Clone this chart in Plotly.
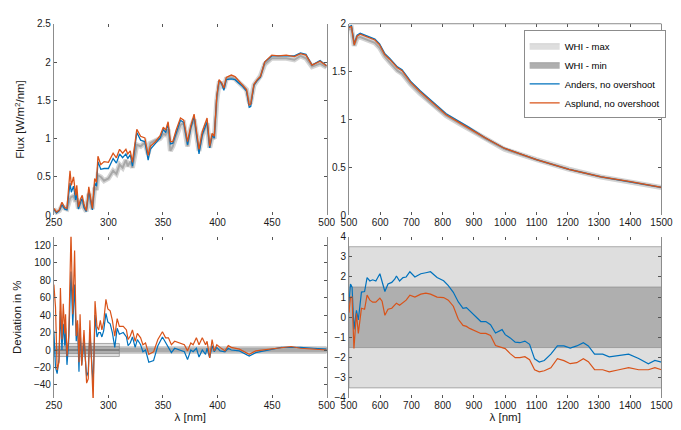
import plotly.graph_objects as go

# --- top left: flux 250-500 nm ---
wl_uv = [250, 252.4, 255, 257.4, 260, 262, 264.8, 266, 268, 270,
         271, 272.5, 274.6, 276, 277.6, 279.7, 282, 283.5, 285.3, 287.4,
         289, 290.4, 293, 296, 300, 304.3, 307.3, 310.2, 313, 316,
         317.7, 320, 322, 326, 329.5, 333.4, 336.4, 338.4, 343, 347.4,
         350.3, 352.4, 354.7, 356.8, 359, 362, 366, 369, 372.5, 375.5,
         378.5, 383, 386, 390.4, 392.8, 395, 397, 399.3, 401.4, 403.7,
         405.8, 408, 412.6, 416, 419.4, 423, 426.5, 429, 430.4, 433.4,
         436.4, 439.3, 443.2, 449.7, 455.7, 463, 470.4, 476, 481, 486.6,
         494, 500]
asplund_uv = [0.09, 0.04, 0.07, 0.17, 0.10, 0.09, 0.58, 0.39, 0.50, 0.26,
              0.39, 0.11, 0.22, 0.26, 0.14, 0.06, 0.37, 0.22, 0.09, 0.48,
              0.43, 0.77, 0.66, 0.70, 0.69, 0.81, 0.75, 0.86, 0.81, 0.86,
              0.80, 0.84, 0.69, 1.12, 1.03, 1.01, 0.78, 0.90, 0.96, 1.04,
              1.15, 1.11, 1.22, 0.96, 0.96, 1.11, 1.27, 1.24, 0.96, 1.17,
              1.32, 0.86, 1.09, 1.27, 0.90, 1.07, 1.03, 1.56, 1.77, 1.73,
              1.66, 1.80, 1.83, 1.81, 1.75, 1.70, 1.64, 1.44, 1.45, 1.71,
              1.77, 1.81, 2.00, 2.09, 2.08, 2.09, 2.07, 2.11, 2.09, 1.96,
              2.01, 1.95]
anders_uv = [0.08, 0.03, 0.06, 0.14, 0.08, 0.07, 0.42, 0.30, 0.38, 0.20,
             0.30, 0.08, 0.18, 0.22, 0.10, 0.05, 0.32, 0.18, 0.07, 0.42,
             0.38, 0.70, 0.60, 0.61, 0.61, 0.74, 0.68, 0.80, 0.75, 0.80,
             0.74, 0.79, 0.64, 1.08, 0.98, 0.96, 0.72, 0.86, 0.93, 1.01,
             1.12, 1.08, 1.19, 0.93, 0.94, 1.08, 1.24, 1.21, 0.92, 1.14,
             1.29, 0.80, 1.05, 1.22, 0.88, 1.04, 1.01, 1.55, 1.76, 1.72,
             1.63, 1.77, 1.78, 1.77, 1.73, 1.68, 1.62, 1.41, 1.42, 1.70,
             1.76, 1.80, 2.00, 2.08, 2.08, 2.08, 2.08, 2.12, 2.10, 1.96,
             2.02, 1.95]
whi_uv = [0.08, 0.04, 0.06, 0.12, 0.09, 0.08, 0.22, 0.24, 0.25, 0.18,
          0.22, 0.09, 0.16, 0.18, 0.10, 0.05, 0.28, 0.16, 0.08, 0.36,
          0.33, 0.52, 0.50, 0.45, 0.48, 0.58, 0.54, 0.66, 0.62, 0.72,
          0.64, 0.70, 0.62, 0.92, 0.90, 0.95, 0.80, 0.94, 0.98, 1.00,
          1.06, 1.05, 1.12, 0.84, 0.90, 1.04, 1.18, 1.20, 0.90, 1.14,
          1.25, 0.84, 1.04, 1.20, 0.88, 1.02, 1.00, 1.50, 1.72, 1.72,
          1.66, 1.78, 1.80, 1.78, 1.73, 1.70, 1.64, 1.48, 1.48, 1.70,
          1.76, 1.82, 1.97, 2.05, 2.05, 2.05, 2.03, 2.08, 2.05, 1.94,
          1.98, 1.93]

# --- top right: flux 500-1500 nm ---
wl_vis = [500, 508, 517, 526, 536, 552, 567, 583, 598, 614, 630, 655, 670,
          697, 728, 769, 811, 852, 883, 935, 997, 1100, 1204, 1307, 1400, 1500]
asplund_vis = [1.96, 1.97, 1.78, 1.87, 1.89, 1.87, 1.85, 1.83, 1.78, 1.68, 1.63, 1.54, 1.51,
               1.39, 1.29, 1.17, 1.05, 0.97, 0.91, 0.81, 0.70, 0.58, 0.48, 0.40, 0.35, 0.29]
anders_vis = [1.97, 1.98, 1.79, 1.88, 1.90, 1.88, 1.86, 1.84, 1.79, 1.69, 1.64, 1.55, 1.52,
              1.40, 1.30, 1.18, 1.06, 0.98, 0.92, 0.81, 0.70, 0.58, 0.48, 0.40, 0.35, 0.29]
whi_vis = [1.94, 1.95, 1.77, 1.85, 1.86, 1.84, 1.82, 1.80, 1.75, 1.66, 1.60, 1.51, 1.48,
           1.37, 1.27, 1.15, 1.04, 0.96, 0.90, 0.80, 0.69, 0.58, 0.48, 0.40, 0.35, 0.29]

# --- bottom left: deviation 250-500 nm ---
dwl_uv = [250, 251.5, 253, 254.7, 256, 257.4, 258.6, 260, 260.7, 262,
          263.6, 265.7, 267.3, 269, 270.5, 271.7, 273, 274, 275.5, 277.6,
          280, 281.5, 283, 284, 286, 287.7, 289.5, 291, 292.6, 294,
          295.6, 297.7, 299.5, 301.6, 303.6, 305.8, 308, 310, 313.6, 316.5,
          318, 320, 322, 324.5, 326.5, 329.5, 331.6, 334, 337, 341.4,
          345.3, 349.5, 352.4, 355, 357.7, 360.7, 365, 369.6, 372.5, 375.5,
          377.6, 380.6, 383, 386, 389, 390.4, 392.8, 395, 397, 399.3,
          402.3, 406.8, 409.8, 412.6, 420, 429, 435, 446.6, 458.5, 467.4,
          476, 488, 500]
dev_asplund_uv = [75, 49, -23, -14, 71, 12, 53, 19, 41, -7,
                  16, 135, 41, 114, 16, 34, -14, 41, -18, 23,
                  -38, -33, 34, 1, -60, 56, 27, 23, 34, 23,
                  32, 58, 47, 45, 34, 16, 36, 27, 27, 23,
                  12, 16, 23, 10, 19, 14, 6, 8, -5, -2,
                  12, 21, 14, 14, 6, 10, 8, 6, -1, 8,
                  6, 14, 6, 14, 6, 10, -9, 12, -1, 6,
                  3, -1, 5, 3, 1, -5, -1, 1, 3, 4,
                  2, 1, 0]
dev_anders_uv = [22, -20, -27, -10, 45, 0, 30, 5, 25, -17,
                 10, 90, 28, 75, 10, 30, -25, 25, -17, 10,
                 -30, -25, 20, -5, -40, 40, 15, 20, 20, 15,
                 22, 42, 32, 30, 20, 3, 25, 18, 20, 15,
                 5, 8, 15, 3, 12, 6, -2, 0, -14, -12,
                 5, 15, 8, 2, -3, 2, 0, -2, -11, 0,
                 -2, 2, -8, 0, -5, 2, -9, 5, -2, 3,
                 -1, -2, 2, 0, -1, -7, -3, 0, 3, 3,
                 3, 2, 1]

# --- bottom right: deviation 500-1500 nm ---
dwl_vis = [500, 505, 510, 516, 524, 530, 540, 550, 558, 567,
           576, 586, 599, 606, 615, 625, 637, 647, 652, 662,
           673, 683, 695, 711, 730, 746, 761, 782, 803, 818,
           834, 850, 865, 876, 886, 901, 922, 938, 953, 969,
           990, 1000, 1016, 1032, 1047, 1063, 1078, 1094, 1109, 1125,
           1146, 1167, 1188, 1208, 1229, 1250, 1266, 1286, 1312, 1333,
           1364, 1395, 1427, 1458, 1479, 1500]
dev_anders_vis = [0.68, 1.65, 1.5, -0.6, 0.35, -0.13, 1.25, 1.28, 1.97, 1.8,
                  1.86, 1.8, 2.16, 1.8, 1.28, 1.65, 1.73, 1.9, 2.05, 1.8,
                  1.97, 2.0, 2.26, 2.0, 2.16, 2.21, 2.26, 1.97, 1.81, 1.57,
                  1.24, 0.76, 0.44, 0.48, 0.32, 0.11, -0.21, -0.21, -0.37, -0.78,
                  -0.61, -0.86, -1.02, -1.23, -1.26, -1.18, -1.34, -2.06, -2.22, -2.14,
                  -1.83, -1.42, -1.42, -1.53, -1.42, -1.26, -1.42, -1.83, -1.83, -1.96,
                  -1.91, -1.83, -2.04, -2.31, -2.14, -2.22]
dev_asplund_vis = [0.23, 1.0, 1.0, -1.55, 0.2, -0.8, 0.45, 0.4, 1.1, 0.85,
                   0.75, 0.75, 0.95, 0.8, 0.1, 0.4, 0.45, 0.6, 0.7, 0.6,
                   0.75, 0.85, 1.1, 1.0, 1.15, 1.2, 1.15, 1.0, 0.98, 0.85,
                   0.55, -0.1, -0.4, -0.45, -0.55, -0.65, -0.8, -0.8, -0.9, -1.4,
                   -1.5, -1.55, -1.8, -2.0, -2.0, -1.95, -2.1, -2.6, -2.7, -2.65,
                   -2.5, -2.05, -2.15, -2.3, -2.25, -2.05, -2.2, -2.6, -2.6, -2.7,
                   -2.6, -2.5, -2.6, -2.6, -2.5, -2.6]

# WHI uncertainty bands in deviation plots: (x0, x1, half width)
band_max_uv = [(250, 310, 7.5), (310, 500, 3.5)]
band_min_uv = [(250, 310, 4), (310, 500, 1.5)]
band_max_vis = [(500, 1500, 3.5)]
band_min_vis = [(500, 1500, 1.5)]

blue = "#0072BD"
orange = "#D95319"
light = "#DEDEDE"
dark = "#AFAFAF"
font = dict(family="Liberation Sans, Arial, sans-serif", size=10, color="#1a1a1a")
title_font = dict(family="Liberation Sans, Arial, sans-serif", size=11.5, color="#1a1a1a")

fig = go.Figure()

# top panels
for xs, ys, xa, ya in [(wl_uv, whi_uv, "x", "y"), (wl_vis, whi_vis, "x2", "y2")]:
    fig.add_trace(go.Scatter(x=xs, y=ys, xaxis=xa, yaxis=ya, mode="lines",
                             line=dict(color="#D4D4D4", width=5), showlegend=False))
    fig.add_trace(go.Scatter(x=xs, y=ys, xaxis=xa, yaxis=ya, mode="lines",
                             line=dict(color="#A8A8A8", width=2), showlegend=False))
fig.add_trace(go.Scatter(x=wl_uv, y=anders_uv, mode="lines", line=dict(color=blue, width=1.3),
                         showlegend=False))
fig.add_trace(go.Scatter(x=wl_uv, y=asplund_uv, mode="lines", line=dict(color=orange, width=1.3),
                         showlegend=False))

# legend entries
fig.add_trace(go.Scatter(x=[None], y=[None], xaxis="x2", yaxis="y2", name="WHI - max", mode="lines",
                         fill="toself", fillcolor=light, line=dict(color="#D0D0D0", width=1)))
fig.add_trace(go.Scatter(x=[None], y=[None], xaxis="x2", yaxis="y2", name="WHI - min", mode="lines",
                         fill="toself", fillcolor=dark, line=dict(color="#A0A0A0", width=1)))

fig.add_trace(go.Scatter(x=wl_vis, y=anders_vis, xaxis="x2", yaxis="y2", mode="lines",
                         name="Anders, no overshoot", line=dict(color=blue, width=1.3)))
fig.add_trace(go.Scatter(x=wl_vis, y=asplund_vis, xaxis="x2", yaxis="y2", mode="lines",
                         name="Asplund, no overshoot", line=dict(color=orange, width=1.3)))

# bottom panels
fig.add_trace(go.Scatter(x=dwl_uv, y=dev_anders_uv, xaxis="x3", yaxis="y3", mode="lines",
                         line=dict(color=blue, width=1.2), showlegend=False))
fig.add_trace(go.Scatter(x=dwl_uv, y=dev_asplund_uv, xaxis="x3", yaxis="y3", mode="lines",
                         line=dict(color=orange, width=1.2), showlegend=False))
fig.add_trace(go.Scatter(x=dwl_vis, y=dev_anders_vis, xaxis="x4", yaxis="y4", mode="lines",
                         line=dict(color=blue, width=1.2), showlegend=False))
fig.add_trace(go.Scatter(x=dwl_vis, y=dev_asplund_vis, xaxis="x4", yaxis="y4", mode="lines",
                         line=dict(color=orange, width=1.2), showlegend=False))

shapes = []
for bands, color, xr, yr in [(band_max_uv, light, "x3", "y3"), (band_min_uv, dark, "x3", "y3"),
                             (band_max_vis, light, "x4", "y4"), (band_min_vis, dark, "x4", "y4")]:
    for x0, x1, h in bands:
        shapes.append(dict(type="rect", xref=xr, yref=yr, x0=x0, x1=x1, y0=-h, y1=h,
                           fillcolor=color, line=dict(color="#8C8C8C", width=0.7), layer="below"))
shapes.append(dict(type="line", xref="x3", yref="y3", x0=band_max_uv[0][0], x1=band_max_uv[0][1],
                   y0=0, y1=0, line=dict(color="#555555", width=1), layer="below"))
shapes.append(dict(type="line", xref="x2 domain", yref="y2 domain", x0=0, x1=1, y0=1, y1=1,
                   line=dict(color="#8C8C8C", width=1)))

xl = [0.0573, 0.470]
xr_ = [0.5037, 0.9765]
ytop = [0.5186, 0.9767]
ybot = [0.0814, 0.4674]

def xax(dom, anchor, rng, dtick, title=None):
    d = dict(domain=dom, anchor=anchor, range=rng, dtick=dtick, tick0=rng[0],
             ticks="inside", ticklen=3, tickcolor="#555", mirror="ticks",
             showline=False, showgrid=False, zeroline=False, tickfont=font)
    if title:
        d["title"] = dict(text=title, font=title_font, standoff=2)
    return d

def yax(dom, anchor, rng, title=None, tickvals=None, dtick=None):
    d = dict(domain=dom, anchor=anchor, range=rng, ticks="inside", ticklen=3, tickcolor="#555",
             showline=True, mirror="ticks", linecolor="#8C8C8C", linewidth=1,
             showgrid=False, zeroline=False, tickfont=font)
    if tickvals is not None:
        d["tickvals"] = tickvals
    if dtick is not None:
        d["dtick"] = dtick
    if title:
        d["title"] = dict(text=title, font=title_font, standoff=9)
    return d

fig.update_layout(
    width=681, height=430,
    margin=dict(l=0, r=0, t=0, b=0),
    paper_bgcolor="white", plot_bgcolor="white",
    font=font,
    showlegend=True,
    legend=dict(x=0.768, y=0.961, xanchor="left", yanchor="top",
                bgcolor="white", bordercolor="#8C8C8C", borderwidth=1,
                font=dict(family="Liberation Sans, Arial, sans-serif", size=9.5, color="black"),
                itemwidth=30, tracegroupgap=0),
    xaxis=xax(xl, "y", [250, 500], 50),
    yaxis=yax(ytop, "x", [0, 2.5], "Flux [W/m<sup>2</sup>/nm]", dtick=0.5),
    xaxis2=xax(xr_, "y2", [500, 1500], 100),
    yaxis2=yax(ytop, "x2", [0, 2], dtick=0.5),
    xaxis3=xax(xl, "y3", [250, 500], 50, "λ [nm]"),
    yaxis3=yax(ybot, "x3", [-55, 130], "Deviation in %", tickvals=[-40, -20, 0, 20, 40, 60, 80, 100, 120]),
    xaxis4=xax(xr_, "y4", [500, 1500], 100, "λ [nm]"),
    yaxis4=yax(ybot, "x4", [-4, 4], dtick=1),
    shapes=shapes,
)

fig.write_html("out.html")
